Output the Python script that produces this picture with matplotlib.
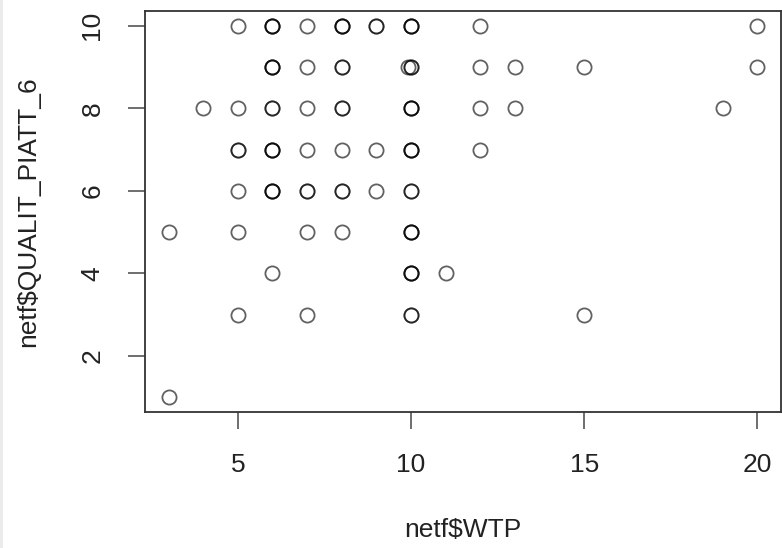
import matplotlib
matplotlib.use("Agg")
import matplotlib.pyplot as plt
from matplotlib.patches import Rectangle

# netf$WTP (x) and netf$QUALIT_PIATT_6 (y); repeated pairs drawn as overlapping circles
wtp = [5, 6, 6, 6, 7, 8, 8, 8, 9, 9, 10, 10, 10, 12, 20,
       6, 6, 6, 7, 8, 8, 9.9, 10, 10, 12, 13, 15, 20,
       4, 5, 6, 6, 7, 8, 8, 10, 10, 10, 12, 13, 19,
       5, 5, 6, 6, 6, 7, 8, 9, 10, 10, 10, 12,
       5, 6, 6, 6, 7, 7, 8, 8, 9, 10, 10,
       3, 5, 7, 8, 10, 10, 10,
       6, 10, 10, 10, 11,
       5, 7, 10, 10, 15,
       3]
qualit = [10, 10, 10, 10, 10, 10, 10, 10, 10, 10, 10, 10, 10, 10, 10,
          9, 9, 9, 9, 9, 9, 9, 9, 9, 9, 9, 9, 9,
          8, 8, 8, 8, 8, 8, 8, 8, 8, 8, 8, 8, 8,
          7, 7, 7, 7, 7, 7, 7, 7, 7, 7, 7, 7,
          6, 6, 6, 6, 6, 6, 6, 6, 6, 6, 6,
          5, 5, 5, 5, 5, 5, 5,
          4, 4, 4, 4, 4,
          3, 3, 3, 3, 3,
          1]
x_ticks = [5, 10, 15, 20]
y_ticks = [2, 4, 6, 8, 10]

plt.rcParams['font.family'] = ['Liberation Sans', 'DejaVu Sans']

W, H = 782, 548
fig = plt.figure(figsize=(W / 100, H / 100), dpi=100)
fig.patch.set_facecolor('white')
# thin light-grey strip on the left edge
fig.patches.append(Rectangle((0, 0), 3 / W, 1, transform=fig.transFigure,
                             facecolor='#ebebeb', edgecolor='none', zorder=0))

left, right, top, bottom = 145, 781, 11, 412
ax = fig.add_axes([left / W, 1 - bottom / H, (right - left) / W, (bottom - top) / H])

ax.plot(wtp, qualit, linestyle='none', marker='o', markersize=10.2,
        markerfacecolor='none', markeredgecolor='black', markeredgewidth=1.3,
        alpha=0.62)

xr = max(wtp) - min(wtp)
yr = max(qualit) - min(qualit)
ax.set_xlim(min(wtp) - 0.04 * xr, max(wtp) + 0.04 * xr)
ax.set_ylim(min(qualit) - 0.04 * yr, max(qualit) + 0.04 * yr)

ax.set_xticks(x_ticks)
ax.set_yticks(y_ticks)
ax.set_xticklabels([str(v) for v in x_ticks])
ax.set_yticklabels([str(v) for v in y_ticks], rotation=90, va='center')

for s in ax.spines.values():
    s.set_color('#333333')
    s.set_linewidth(1.3)

ax.tick_params(axis='both', direction='out', length=12.2, width=1.2,
               color='#555555', labelsize=19, labelcolor='#222222', pad=17)

ax.set_xlabel('netf$WTP', fontsize=19, color='#222222', labelpad=30)
ax.set_ylabel('netf$QUALIT_PIATT_6', fontsize=19, color='#222222', labelpad=29)

fig.savefig('out.png', dpi=100, facecolor='white')
